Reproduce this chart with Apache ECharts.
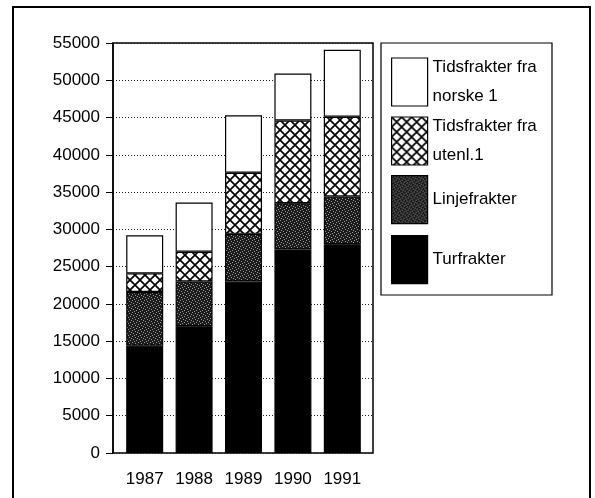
<!DOCTYPE html>
<html>
<head>
<meta charset="utf-8">
<script src="https://cdn.jsdelivr.net/npm/echarts@6/dist/echarts.min.js"></script>
<style>
  html, body { margin: 0; padding: 0; background: #fff; }
  #chart { width: 595px; height: 498px; }
</style>
</head>
<body>
<div id="chart"></div>
<script>
// data
const years = ['1987', '1988', '1989', '1990', '1991']
const turfrakter = [14400, 17000, 23000, 27300, 28000]
const linjefrakter = [7200, 6000, 6400, 6200, 6400]
const tidsUtenl = [2500, 4000, 8200, 11100, 10700]
const tidsNorske = [5100, 6600, 7700, 6300, 9000]
const legendNames = ['Tidsfrakter fra norske 1', 'Tidsfrakter fra utenl.1', 'Linjefrakter', 'Turfrakter']

function crossHatch() {
  const c = document.createElement('canvas')
  c.width = 10; c.height = 10
  const g = c.getContext('2d')
  g.fillStyle = '#fff'
  g.fillRect(0, 0, 10, 10)
  g.strokeStyle = '#000'
  g.lineWidth = 1.7
  g.beginPath()
  g.moveTo(0, 0); g.lineTo(10, 10)
  g.moveTo(10, 0); g.lineTo(0, 10)
  g.stroke()
  return c
}

function stipple() {
  const c = document.createElement('canvas')
  c.width = 6; c.height = 6
  const g = c.getContext('2d')
  g.fillStyle = '#1a1a1a'
  g.fillRect(0, 0, 6, 6)
  g.fillStyle = '#9a9a9a'
  ;[[0, 0], [3, 1], [1, 3], [4, 4], [5, 2], [2, 5]].forEach(([x, y]) => g.fillRect(x, y, 1, 1))
  return c
}

const border = { borderColor: '#000', borderWidth: 1.2 }
const chart = echarts.init(document.getElementById('chart'))

function bar(name, data, color) {
  return {
    name,
    type: 'bar',
    stack: 'total',
    xAxisIndex: 1,
    yAxisIndex: 1,
    data,
    barWidth: 37,
    itemStyle: Object.assign({ color }, border),
    emphasis: { disabled: true },
  }
}

// one legend per entry so each swatch sits where the original has it
const swatchTops = [58, 117, 175, 235]
const legends = legendNames.map((n, i) => ({
  data: [n],
  orient: 'vertical',
  left: 391,
  top: n.includes(' fra ') ? swatchTops[i] - 5 : swatchTops[i],
  padding: 0,
  icon: 'rect',
  itemWidth: 36,
  itemHeight: 48,
  selectedMode: false,
  itemStyle: { borderColor: '#000', borderWidth: 1.2 },
  formatter: (s) => s.replace(' fra ', ' fra\n'),
  textStyle: { fontSize: 17, color: '#000', lineHeight: 29 },
}))

chart.setOption({
  animation: false,
  textStyle: { fontFamily: 'Liberation Sans, Arial, sans-serif', color: '#000' },
  grid: [
    // plot frame, value axis and gridlines
    { left: 113, right: 222, top: 43, bottom: 45, show: true, borderColor: '#000', borderWidth: 1.5 },
    // bars sit a little inside the frame
    { left: 120, right: 228, top: 43, bottom: 45 },
  ],
  xAxis: [
    { type: 'value', gridIndex: 0, show: false },
    {
      type: 'category',
      gridIndex: 1,
      data: years,
      axisLine: { show: false },
      axisTick: { alignWithLabel: true, length: 7, lineStyle: { color: '#000' } },
      axisLabel: { color: '#000', fontSize: 17, margin: 18 },
    },
  ],
  yAxis: [
    {
      type: 'value',
      gridIndex: 0,
      min: 0,
      max: 55000,
      interval: 5000,
      axisLine: { show: true, lineStyle: { color: '#000', width: 1.5 } },
      axisTick: { show: true, length: 7, lineStyle: { color: '#000' } },
      axisLabel: { color: '#000', fontSize: 17, margin: 13, formatter: (v) => String(v) },
      splitLine: { lineStyle: { color: '#222', type: [1, 2], width: 1 } },
    },
    { type: 'value', gridIndex: 1, min: 0, max: 55000, show: false },
  ],
  legend: legends,
  graphic: [
    { type: 'rect', shape: { x: 13, y: 7, width: 577, height: 520 }, style: { fill: 'none', stroke: '#000', lineWidth: 2 } },
    { type: 'rect', shape: { x: 381, y: 43, width: 171, height: 252 }, style: { fill: 'none', stroke: '#000', lineWidth: 1.2 } },
  ],
  series: [
    bar('Turfrakter', turfrakter, '#000'),
    bar('Linjefrakter', linjefrakter, { image: stipple(), repeat: 'repeat' }),
    bar('Tidsfrakter fra utenl.1', tidsUtenl, { image: crossHatch(), repeat: 'repeat' }),
    bar('Tidsfrakter fra norske 1', tidsNorske, '#fff'),
  ],
})
</script>
</body>
</html>
